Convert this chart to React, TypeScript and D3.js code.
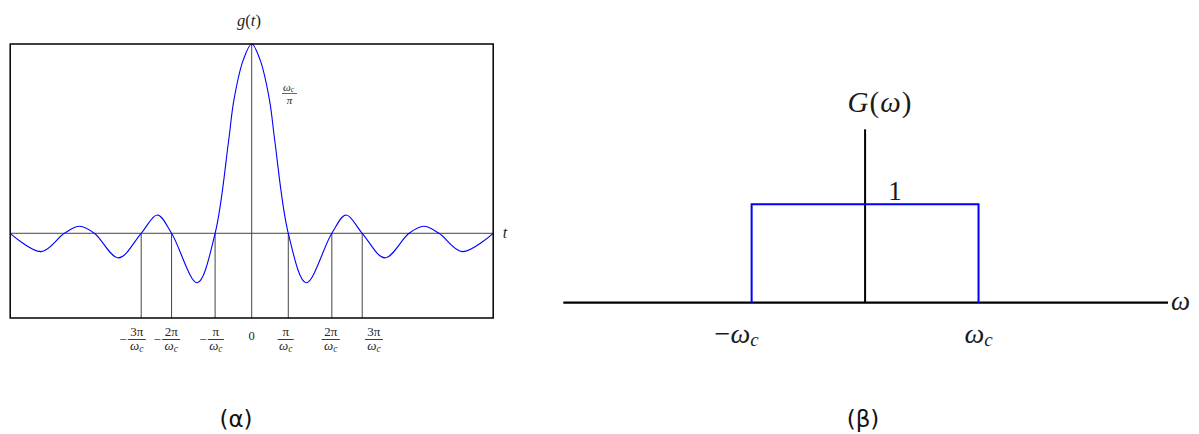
import React from "react";
import * as d3 from "d3";

// ---- Left panel: g(t) curve (t in units of π/ωc, g relative to ωc/π) ----
const curveT = [-6.6, -5.75, -5.12, -4.7, -4.3, -3.64, -3.02, -2.58, -2.19, -1.49, -1.0, -0.63, -0.49, -0.23, 0, 0.23, 0.49, 0.63, 1.0, 1.49, 2.19, 2.58, 3.02, 3.64, 4.3, 4.7, 5.12, 5.75, 6.6];
const curveG = [0, -0.097, 0, 0.037, 0, -0.13, 0, 0.097, 0, -0.261, 0, 0.49, 0.7, 0.916, 1, 0.916, 0.7, 0.49, 0, -0.261, 0, 0.097, 0, -0.13, 0, 0.037, 0, -0.097, 0];
const zeroMarksT = [-3.02, -2.19, -1.0, 1.0, 2.19, 3.02];
const tickLabelT = [-3.14, -2.2, -0.98, 0, 0.93, 2.16, 3.34];
const tickNumer = ["3π", "2π", "π", "0", "π", "2π", "3π"];
const tickNeg = [true, true, true, false, false, false, false];

// ---- Right panel: G(ω) rectangle (ω in units of ωc) ----
const rectOmega = [-1, 1];
const rectLevel = 1;
const omegaLabels = [{ w: -1, neg: true }, { w: 1, neg: false }];

const FONT = "'Liberation Serif', 'DejaVu Serif', serif";
const BLUE = "#0000ff";
const INK = "#1a1a1a";
const LABEL = "#262626";

export default function App() {
  // left scales
  const x = d3.scaleLinear().domain([-6.6, 6.6]).range([10.2, 493.2]);
  const y = d3.scaleLinear().domain([-0.4475, 1]).range([318, 44]);
  const line = d3
    .line<number>()
    .x((_, i) => x(curveT[i]))
    .y((d) => y(d))
    .curve(d3.curveCatmullRom.alpha(0.5));
  const path = line(curveG) || "";

  // right scales
  const xw = d3.scaleLinear().domain([-2.66, 2.67]).range([563.3, 1168]);
  const yw = d3.scaleLinear().domain([0, 1]).range([302.7, 204.3]);

  const barY = 339.5;

  return (
    <svg
      width={1199}
      height={434}
      style={{ position: "absolute", left: 0, top: 0, background: "#fff" }}
      fontFamily={FONT}
    >
      <rect x={0} y={0} width={1199} height={434} fill="#fff" />
      {/* ---------- Left panel ---------- */}
      <text x={249} y={26} fontSize={16.5} textAnchor="middle" fill={LABEL}>
        <tspan fontStyle="italic">g</tspan>(<tspan fontStyle="italic">t</tspan>)
      </text>
      {/* baseline */}
      <line x1={x(-6.6)} x2={x(6.6)} y1={y(0)} y2={y(0)} stroke="#444" strokeWidth={1} />
      {/* central vertical */}
      <line x1={x(0)} x2={x(0)} y1={y(1)} y2={y(-0.4475)} stroke="#444" strokeWidth={1} />
      {zeroMarksT.map((t, i) => (
        <line key={i} x1={x(t)} x2={x(t)} y1={y(0)} y2={y(-0.4475)} stroke="#444" strokeWidth={1} />
      ))}
      <path d={path} fill="none" stroke={BLUE} strokeWidth={1.1} />
      {/* frame */}
      <rect
        x={x(-6.6)}
        y={y(1)}
        width={x(6.6) - x(-6.6)}
        height={y(-0.4475) - y(1)}
        fill="none"
        stroke="#000"
        strokeWidth={1.5}
      />
      <text x={505} y={238} fontSize={16} fontStyle="italic" textAnchor="middle" fill={LABEL}>
        t
      </text>
      {/* ωc/π label */}
      <line x1={282} x2={297} y1={93.5} y2={93.5} stroke={LABEL} strokeWidth={0.7} />
      <text fontSize={11} textAnchor="middle" fill={LABEL}>
        <tspan x={288.5} y={90.5} fontStyle="italic">ω</tspan>
        <tspan fontStyle="italic" fontSize={7.5} dy={1.5}>c</tspan>
        <tspan x={289.5} y={103.5} fontStyle="italic">π</tspan>
      </text>
      {/* tick labels */}
      <g fill={LABEL}>
        {tickLabelT.map((t, i) => {
          const cx = x(t);
          if (tickNumer[i] === "0") {
            return (
              <text key={i} x={cx} y={339.5} fontSize={12.5} textAnchor="middle">
                0
              </text>
            );
          }
          const w = tickNumer[i].length > 1 ? 18 : 16;
          return (
            <g key={i}>
              <line x1={cx - w / 2} x2={cx + w / 2} y1={barY} y2={barY} stroke={LABEL} strokeWidth={0.9} />
              <text fontSize={13} textAnchor="middle">
                {tickNeg[i] && (
                  <tspan x={cx - w / 2 - 5} y={barY + 4}>
                    −
                  </tspan>
                )}
                <tspan x={cx} y={barY - 4}>
                  {tickNumer[i]}
                </tspan>
                <tspan x={cx} y={barY + 10.6} fontStyle="italic">
                  ω
                </tspan>
                <tspan fontStyle="italic" fontSize={9.5} dy={2}>
                  c
                </tspan>
              </text>
            </g>
          );
        })}
      </g>

      {/* ---------- Right panel ---------- */}
      <line x1={xw(-2.66)} x2={xw(2.67)} y1={yw(0)} y2={yw(0)} stroke="#000" strokeWidth={2.2} />
      <line x1={xw(0)} x2={xw(0)} y1={yw(0)} y2={yw(1.762)} stroke="#000" strokeWidth={2} />
      <path
        d={`M${xw(rectOmega[0])},${yw(0)}V${yw(rectLevel)}H${xw(rectOmega[1])}V${yw(0)}`}
        fill="none"
        stroke={BLUE}
        strokeWidth={2}
      />
      <text x={880} y={112} fontSize={29} textAnchor="middle" fill={INK} letterSpacing={1}>
        <tspan fontStyle="italic">G</tspan>(<tspan fontStyle="italic">ω</tspan>)
      </text>
      <text x={895} y={199.5} fontSize={27} textAnchor="middle" fill={INK}>
        {rectLevel}
      </text>
      <text x={1171} y={309.5} fontSize={27} fontStyle="italic" fill={INK}>
        ω
      </text>
      {omegaLabels.map((o, i) => (
        <text key={i} x={xw(o.w) - (o.neg ? 15 : 0)} y={343} fontSize={28} textAnchor="middle" fill={INK}>
          {o.neg ? "−" : ""}
          <tspan fontStyle="italic">ω</tspan>
          <tspan fontStyle="italic" fontSize={19} dy={3}>c</tspan>
        </text>
      ))}

      {/* captions */}
      <text x={236} y={427} fontSize={23} fontFamily="'DejaVu Sans', sans-serif" textAnchor="middle" fill="#111">
        (α)
      </text>
      <text x={863} y={427} fontSize={23} fontFamily="'DejaVu Sans', sans-serif" textAnchor="middle" fill="#111">
        (β)
      </text>
    </svg>
  );
}
